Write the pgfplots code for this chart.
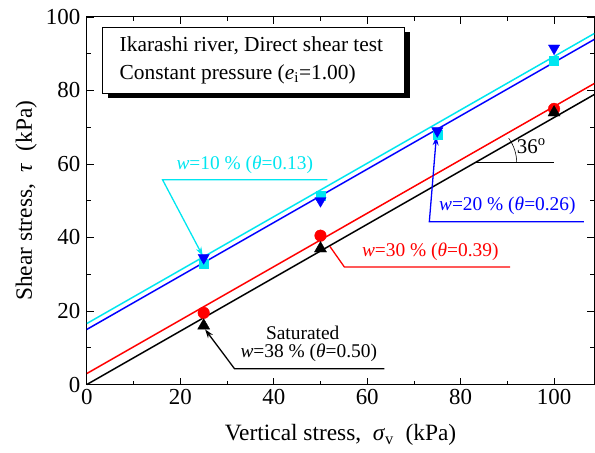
\documentclass[border=0pt]{standalone}
\usepackage{pgfplots}
\pgfplotsset{compat=1.18}
\usepackage{fontspec}
\setmainfont{Liberation Serif}
\usetikzlibrary{arrows.meta}
\definecolor{cy}{RGB}{0,230,240}
\begin{document}
\fontsize{19.5}{22}\selectfont
\begin{tikzpicture}
\begin{axis}[
 scale only axis, width=508bp, height=368bp,
 xmin=0, xmax=108.6, ymin=0, ymax=100,
 xtick={0,20,...,100}, ytick={0,20,...,100},
 minor x tick num=1, minor y tick num=1,
 tick align=inside, major tick length=7bp, minor tick length=4bp,
 tick style={black, line width=0.8pt},
 axis line style={line width=1pt},
 /pgf/number format/assume math mode=true,
 ticklabel style={font=\fontsize{23}{25}\selectfont},
 xticklabel style={yshift=2bp},
 xlabel={Vertical stress,\ \ \textit{σ}\textsubscript{v}\ \ (kPa)},
 ylabel={Shear stress,\ \ \textit{τ}\ \ (kPa)},
 label style={font=\fontsize{23.5}{25}\selectfont},
 xlabel style={yshift=-7bp},
 ylabel style={yshift=-4bp},
 clip=false,
]
% frame padding to match the reference layout
\path (rel axis cs:0,0) ++(-87bp,-67bp);
\path (rel axis cs:1,1) ++(0bp,17bp);
% fitted lines
\addplot[cy, line width=1.5pt, no marks] coordinates {(0,16.6) (108.6,95.5)};
\addplot[blue, line width=1.5pt, no marks] coordinates {(0,15) (108.6,93.9)};
\addplot[red, line width=1.5pt, no marks] coordinates {(0,3) (108.6,81.9)};
\addplot[black, line width=1.5pt, no marks] coordinates {(0,0) (108.6,78.9)};
% data
\addplot[only marks, mark=square*, mark size=4.5bp, cy] coordinates {(25,33) (50,51.5) (75,68) (100,88)};
\addplot[only marks, mark=triangle*, mark size=6.5bp, blue, mark options={rotate=180}] coordinates {(25,34.5) (50,50) (75,69) (100,91.5)};
\addplot[only marks, mark=*, mark size=5.8bp, red] coordinates {(25,19.5) (50,40.5) (100,75)};
\addplot[only marks, mark=triangle*, mark size=7bp, black] coordinates {(25,16) (50,37) (100,74)};

% title box
\fill[black] (axis cs:4.6,95.8) rectangle (axis cs:69.2,77.9);
\draw[black, fill=white, line width=0.8pt] (axis cs:3.4,97.3) rectangle (axis cs:68,79.3);
\node[anchor=west, font=\fontsize{21.5}{25}\selectfont] at (axis cs:5.6,92.3) {Ikarashi river, Direct shear test};
\node[anchor=west, font=\fontsize{21.5}{25}\selectfont] at (axis cs:5.6,84.3) {Constant pressure (\textit{e}\textsubscript{i}=1.00)};

% 36 degree annotation
\draw[black, line width=0.8pt] (axis cs:83,60.3) -- (axis cs:100,60.3);
\draw[black, line width=0.6pt] (axis cs:92,60.3) arc[start angle=0, end angle=36, radius=42bp];
\node[anchor=west, inner sep=1pt, font=\fontsize{21}{23}\selectfont] at (axis cs:91.8,64.8) {36\textsuperscript{o}};

% cyan annotation
\draw[cy, line width=1.3pt, -{Stealth[length=9pt,width=6pt]}] (axis cs:51.5,55.7) -- (axis cs:16.2,55.7) -- (axis cs:24.8,35);
\node[cy, anchor=south] at (axis cs:33.8,55.7) {\textit{w}=10 \% (\textit{θ}=0.13)};

% blue annotation
\draw[blue, line width=1.3pt, -{Stealth[length=9pt,width=6pt]}] (axis cs:106.4,44.3) -- (axis cs:73.3,44.3) -- (axis cs:74.8,67.5);
\node[blue, anchor=south] at (axis cs:90,44.3) {\textit{w}=20 \% (\textit{θ}=0.26)};

% red annotation
\draw[red, line width=1.3pt] (axis cs:52,37.6) -- (axis cs:55.1,32) -- (axis cs:90.6,32);
\node[red, anchor=south] at (axis cs:73.5,32) {\textit{w}=30 \% (\textit{θ}=0.39)};

% black annotation
\draw[black, line width=1.3pt, -{Stealth[length=9pt,width=6pt]}] (axis cs:63.7,4.3) -- (axis cs:31.6,4.3) -- (axis cs:25.3,15);
\node[black, anchor=south] at (axis cs:47.5,4.3) {\textit{w}=38 \% (\textit{θ}=0.50)};
\node[black, anchor=south] at (axis cs:46.2,10.5) {Saturated};
\end{axis}
\end{tikzpicture}
\end{document}
